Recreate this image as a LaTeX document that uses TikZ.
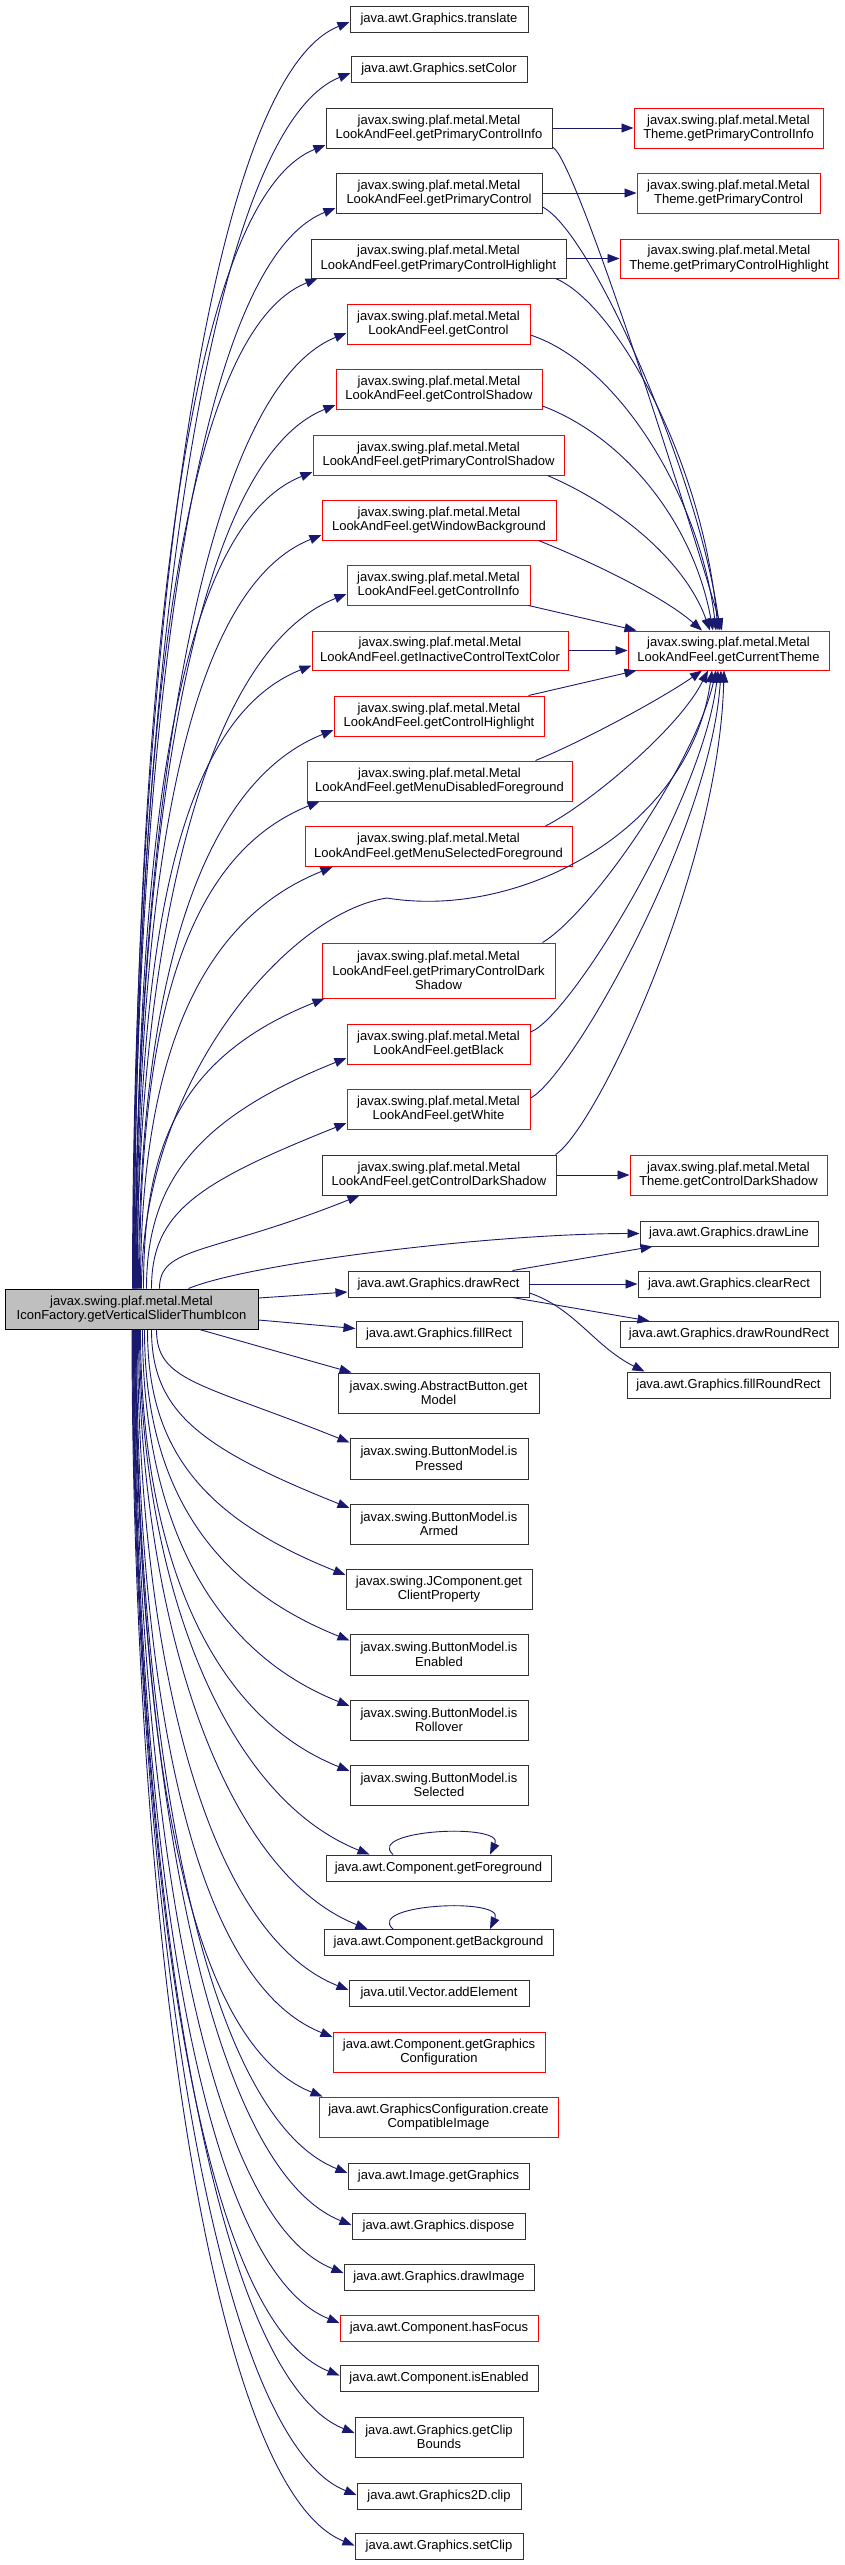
\documentclass[tikz,border=0pt]{standalone}
\usepackage{fontspec}
\setmainfont{Liberation Sans}
\usepackage{tikz}
\usetikzlibrary{arrows.meta,calc}

\definecolor{navyedge}{HTML}{191970}
\definecolor{rootgray}{HTML}{BFBFBF}

\tikzset{
  fn/.style={draw=black!80, line width=1pt, rectangle, align=center, inner sep=2pt,
    minimum height=26, font=\fontsize{13}{14.5}\selectfont},
  ext/.style={fn, draw=red},
  rootfn/.style={fn, draw=black, fill=rootgray},
  call/.style={draw=navyedge, line width=0.9pt, -{Triangle[length=12pt,width=9pt]}}
}

\begin{document}
\begin{tikzpicture}[x=1pt, y=-1pt]
    \fill[white] (0,0) rectangle (845,2565);
    \useasboundingbox (0,0) rectangle (845,2565);

    % caller
    \node[rootfn, minimum width=253, minimum height=40] (thumb) at (131.5,1309) {javax.swing.plaf.metal.Metal\\IconFactory.getVerticalSliderThumbIcon};

    % callees above
    \node[fn, minimum width=178] (translate) at (439,19) {java.awt.Graphics.translate};
    \node[fn, minimum width=176] (setColor) at (439,69.5) {java.awt.Graphics.setColor};
    \node[fn, minimum width=226, minimum height=40] (lafPCInfo) at (439,128) {javax.swing.plaf.metal.Metal\\LookAndFeel.getPrimaryControlInfo};
    \node[ext, minimum width=189, minimum height=40] (thPCInfo) at (728.5,128) {javax.swing.plaf.metal.Metal\\Theme.getPrimaryControlInfo};
    \node[fn, minimum width=206, minimum height=40] (lafPC) at (439,193) {javax.swing.plaf.metal.Metal\\LookAndFeel.getPrimaryControl};
    \node[ext, minimum width=183, minimum height=40] (thPC) at (728.5,193) {javax.swing.plaf.metal.Metal\\Theme.getPrimaryControl};
    \node[fn, minimum width=255, minimum height=39] (lafPCHigh) at (438.5,258.5) {javax.swing.plaf.metal.Metal\\LookAndFeel.getPrimaryControlHighlight};
    \node[ext, minimum width=218, minimum height=39] (thPCHigh) at (729,258.5) {javax.swing.plaf.metal.Metal\\Theme.getPrimaryControlHighlight};
    \node[ext, minimum width=183, minimum height=40] (lafCtl) at (438.5,324) {javax.swing.plaf.metal.Metal\\LookAndFeel.getControl};
    \node[ext, minimum width=206, minimum height=40] (lafCtlShadow) at (439,389) {javax.swing.plaf.metal.Metal\\LookAndFeel.getControlShadow};
    \node[ext, minimum width=251, minimum height=40] (lafPCShadow) at (438.5,455) {javax.swing.plaf.metal.Metal\\LookAndFeel.getPrimaryControlShadow};
    \node[ext, minimum width=234, minimum height=40] (lafWinBg) at (439,520) {javax.swing.plaf.metal.Metal\\LookAndFeel.getWindowBackground};
    \node[ext, minimum width=183, minimum height=40] (lafCtlInfo) at (438.5,585) {javax.swing.plaf.metal.Metal\\LookAndFeel.getControlInfo};
    \node[ext, minimum width=256, minimum height=39] (lafInactive) at (440,650.5) {javax.swing.plaf.metal.Metal\\LookAndFeel.getInactiveControlTextColor};
    \node[ext, minimum width=201, minimum height=39] (curTheme) at (728.5,650.5) {javax.swing.plaf.metal.Metal\\LookAndFeel.getCurrentTheme};
    \node[ext, minimum width=210, minimum height=40] (lafCtlHigh) at (439,716) {javax.swing.plaf.metal.Metal\\LookAndFeel.getControlHighlight};
    \node[ext, minimum width=265, minimum height=40] (lafMenuDis) at (439.5,781) {javax.swing.plaf.metal.Metal\\LookAndFeel.getMenuDisabledForeground};
    \node[ext, minimum width=267, minimum height=40] (lafMenuSel) at (438.5,846.5) {javax.swing.plaf.metal.Metal\\LookAndFeel.getMenuSelectedForeground};
    \node[ext, minimum width=233, minimum height=55] (lafPCDark) at (438.5,970.5) {javax.swing.plaf.metal.Metal\\LookAndFeel.getPrimaryControlDark\\Shadow};
    \node[ext, minimum width=183, minimum height=40] (lafBlack) at (438.5,1044) {javax.swing.plaf.metal.Metal\\LookAndFeel.getBlack};
    \node[ext, minimum width=183, minimum height=40] (lafWhite) at (438.5,1109) {javax.swing.plaf.metal.Metal\\LookAndFeel.getWhite};
    \node[fn, minimum width=234, minimum height=40] (lafCtlDark) at (439,1175) {javax.swing.plaf.metal.Metal\\LookAndFeel.getControlDarkShadow};
    \node[ext, minimum width=197, minimum height=40] (thCtlDark) at (728.5,1175) {javax.swing.plaf.metal.Metal\\Theme.getControlDarkShadow};
    \node[fn, minimum width=178, minimum height=25] (drawLine) at (729,1233.5) {java.awt.Graphics.drawLine};

    % callees beside and below
    \node[fn, minimum width=181] (drawRect) at (438.5,1284) {java.awt.Graphics.drawRect};
    \node[fn, minimum width=182] (clearRect) at (729,1284) {java.awt.Graphics.clearRect};
    \node[fn, minimum width=218] (drawRRect) at (729,1334.5) {java.awt.Graphics.drawRoundRect};
    \node[fn, minimum width=203] (fillRRect) at (728.5,1385) {java.awt.Graphics.fillRoundRect};
    \node[fn, minimum width=166] (fillRect) at (439,1334.5) {java.awt.Graphics.fillRect};
    \node[fn, minimum width=201, minimum height=40] (getModel) at (438.5,1393) {javax.swing.AbstractButton.get\\Model};
    \node[fn, minimum width=178, minimum height=41] (isPressed) at (439,1458.5) {javax.swing.ButtonModel.is\\Pressed};
    \node[fn, minimum width=178, minimum height=40] (isArmed) at (439,1524) {javax.swing.ButtonModel.is\\Armed};
    \node[fn, minimum width=186, minimum height=40] (clientProp) at (439,1589) {javax.swing.JComponent.get\\ClientProperty};
    \node[fn, minimum width=178, minimum height=41] (isEnabledBM) at (439,1654.5) {javax.swing.ButtonModel.is\\Enabled};
    \node[fn, minimum width=178, minimum height=40] (isRollover) at (439,1720) {javax.swing.ButtonModel.is\\Rollover};
    \node[fn, minimum width=178, minimum height=40] (isSelected) at (439,1785) {javax.swing.ButtonModel.is\\Selected};
    \node[fn, minimum width=225] (getFg) at (438.5,1868) {java.awt.Component.getForeground};
    \node[fn, minimum width=229] (getBg) at (438.5,1942.5) {java.awt.Component.getBackground};
    \node[fn, minimum width=180] (addElem) at (439,1993) {java.util.Vector.addElement};
    \node[ext, minimum width=212, minimum height=40] (getGC) at (439,2052) {java.awt.Component.getGraphics\\Configuration};
    \node[ext, minimum width=239, minimum height=40] (createImg) at (438.5,2117) {java.awt.GraphicsConfiguration.create\\CompatibleImage};
    \node[fn, minimum width=181] (imgGraphics) at (438.5,2176) {java.awt.Image.getGraphics};
    \node[fn, minimum width=173] (dispose) at (438.5,2226) {java.awt.Graphics.dispose};
    \node[fn, minimum width=190] (drawImage) at (439,2277) {java.awt.Graphics.drawImage};
    \node[ext, minimum width=198] (hasFocus) at (439,2328) {java.awt.Component.hasFocus};
    \node[fn, minimum width=198] (isEnabledC) at (439,2378.5) {java.awt.Component.isEnabled};
    \node[fn, minimum width=168, minimum height=40] (clipBounds) at (439,2437) {java.awt.Graphics.getClip\\Bounds};
    \node[fn, minimum width=164] (clip2D) at (439,2496) {java.awt.Graphics2D.clip};
    \node[fn, minimum width=168] (setClip) at (439,2546.5) {java.awt.Graphics.setClip};

    % calls going up
    \foreach \t/\s/\a/\an/\dx/\dy in {translate/1/583/west/0/-3, setColor/1.5/559/west/0/-3.5,
        lafPCInfo/2/526/west/0/-17, lafPC/2.5/497/west/0/-15, lafPCHigh/3/465/south west/7/0,
        lafCtl/3.5/440/west/0/-9, lafCtlShadow/4/407/west/0/-16, lafPCShadow/4.5/376/west/0/-17,
        lafWinBg/5/347/west/0/-15, lafCtlInfo/5.5/320/west/0/-9, lafInactive/6/287/west/0/-15,
        lafCtlHigh/7/257/west/0/-14, lafMenuDis/8/225/south west/13/0, lafMenuSel/9/196/south west/28/0,
        lafPCDark/12/135/south west/3/0, lafBlack/15/106/west/0/-14, lafWhite/20/76/west/0/-14,
        lafCtlDark/28/43/south west/38/0}
        \draw[call] ([xshift=\s]thumb.north) .. controls +(0,-\a) and +(-150,60) .. ([xshift=\dx,yshift=\dy]\t.\an);

    % calls going down
    \foreach \t/\s/\a/\an/\dx/\dy in {isPressed/25/52/west/0/16, isArmed/20/82/west/0/16,
        clientProp/16/113/west/0/14, isEnabledBM/13/143/west/0/14, isRollover/11/173/west/0/14,
        isSelected/9/203/west/0/14, getFg/8/242/north west/44/0, getBg/7/276/north west/44/0,
        addElem/6/304/west/0/3, getGC/5/326/west/0/15, createImg/4.5/353/north west/4/0,
        imgGraphics/4/388/west/0/3, dispose/3.5/412/west/0/1, drawImage/3/434/west/0/4,
        hasFocus/2.5/457/west/0/5, isEnabledC/2/481/west/0/3, clipBounds/1.5/508/west/0/4,
        clip2D/1/536/west/0/1, setClip/0.5/559/west/0/1}
        \draw[call] ([xshift=\s]thumb.south) .. controls +(0,\a) and +(-150,-60) .. ([xshift=\dx,yshift=\dy]\t.\an);

    \draw[call] ([xshift=57]thumb.north) .. controls +(60,-25) and +(-150,0) .. (drawLine.west);
    \draw[call] ([yshift=11]thumb.east) -- ([yshift=-8]drawRect.west);
    \draw[call] ([yshift=-11]thumb.east) -- ([yshift=6]fillRect.west);
    \draw[call] ([xshift=68]thumb.south) -- ([xshift=14]getModel.north west);

    % direct call to getCurrentTheme
    \coordinate (wave) at (387,898);
    \draw[call] ([xshift=10]thumb.north) .. controls +(0,-209) and +(-97,14) .. (wave)
        .. controls +(133,22) and +(-22,159) .. ([xshift=-16.5]curTheme.south);

    % theme lookups
    \draw[call] (lafPCInfo.east) -- (thPCInfo.west);
    \draw[call] (lafPC.east) -- (thPC.west);
    \draw[call] (lafPCHigh.east) -- (thPCHigh.west);
    \draw[call] (lafCtlDark.east) -- (thCtlDark.west);

    \draw[call] ([yshift=-19]lafPCInfo.east) .. controls +(25,12) and +(-20,-70) .. ([xshift=-6.5]curTheme.north);
    \draw[call] ([yshift=-14]lafPC.east) .. controls +(50,25) and +(-20,-150) .. ([xshift=-8.5]curTheme.north);
    \draw[call] ([xshift=-11]lafPCHigh.south east) .. controls +(60,25) and +(-15,-170) .. ([xshift=-10.5]curTheme.north);
    \draw[call] ([yshift=-11]lafCtl.east) .. controls +(90,30) and +(-15,-130) .. ([xshift=-12.5]curTheme.north);
    \draw[call] ([yshift=-17]lafCtlShadow.east) .. controls +(80,30) and +(-20,-110) .. ([xshift=-15.5]curTheme.north);
    \draw[call] ([xshift=-17]lafPCShadow.south east) .. controls +(70,30) and +(-25,-70) .. ([xshift=-18.5]curTheme.north);
    \draw[call] ([xshift=-18]lafWinBg.south east) .. controls +(50,20) and +(-40,-35) .. ([xshift=-26.5]curTheme.north);
    \draw[call] ([xshift=-2]lafCtlInfo.south east) -- ([xshift=9]curTheme.north west);
    \draw[call] (lafInactive.east) -- (curTheme.west);
    \draw[call] ([xshift=-16]lafCtlHigh.north east) -- ([xshift=9]curTheme.south west);
    \draw[call] ([xshift=-37]lafMenuDis.north east) .. controls +(45,-18) and +(-40,28) .. ([xshift=-26.5]curTheme.south);
    \draw[call] ([xshift=-27]lafMenuSel.north east) .. controls +(40,-20) and +(-30,60) .. ([xshift=-20.5]curTheme.south);
    \draw[call] ([xshift=-13]lafPCDark.north east) .. controls +(50,-30) and +(-20,90) .. ([xshift=-12.5]curTheme.south);
    \draw[call] ([yshift=12]lafBlack.east) .. controls +(40,-15) and +(-15,130) .. ([xshift=-10.5]curTheme.south);
    \draw[call] ([yshift=11]lafWhite.east) .. controls +(40,-20) and +(-10,160) .. ([xshift=-7.5]curTheme.south);
    \draw[call] ([xshift=-1]lafCtlDark.north east) .. controls +(40,-25) and +(-5,200) .. ([xshift=-4.5]curTheme.south);

    % drawRect callees
    \draw[call] ([xshift=-17]drawRect.north east) -- ([xshift=13]drawLine.south west);
    \draw[call] (drawRect.east) -- (clearRect.west);
    \draw[call] ([xshift=-17]drawRect.south east) -- ([xshift=30]drawRRect.north west);
    \draw[call] ([yshift=-9]drawRect.east) .. controls +(45,15) and +(-50,-25) .. ([xshift=18]fillRRect.north west);

    % recursion
    \draw[call] ([xshift=-45.5]getFg.north) .. controls +(-28,-25) and +(15,-32) .. ([xshift=51.5]getFg.north);
    \draw[call] ([xshift=-45.5]getBg.north) .. controls +(-28,-25) and +(15,-32) .. ([xshift=51.5]getBg.north);
\end{tikzpicture}
\end{document}
